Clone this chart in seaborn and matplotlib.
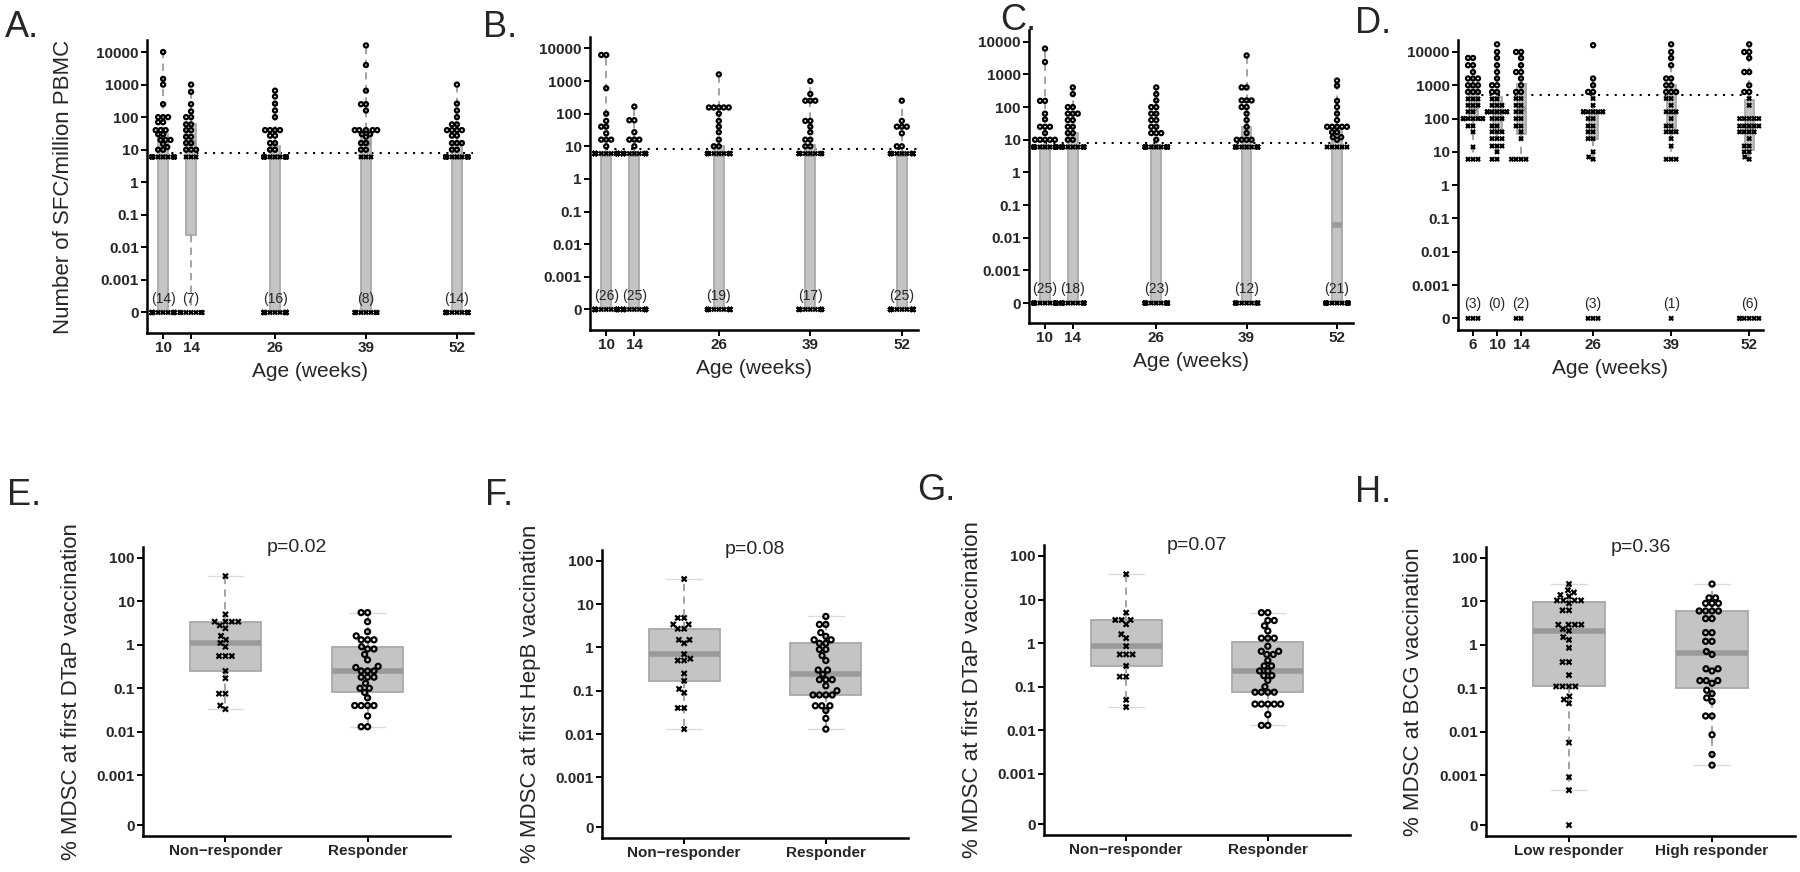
import warnings
import numpy as np
import pandas as pd
import matplotlib
matplotlib.use("Agg")
import matplotlib.pyplot as plt
from matplotlib.markers import MarkerStyle
from matplotlib.transforms import Affine2D
import seaborn as sns

warnings.filterwarnings("ignore")

# ---- A-D: SFC / million PBMC by age (values above the floor, floor count, zero count) ----
FLOOR_VALUE = 6

A_WEEKS = [10, 14, 26, 39, 52]
A_ZEROS = [14, 7, 16, 8, 14]
A_FLOOR = [18, 3, 20, 3, 18]
A_VALUES = [
    [10000, 1500, 1000, 250, 100, 100, 100, 70, 70, 40, 40, 40, 30, 30, 20, 20, 20, 15, 12, 10, 10],
    [1000, 600, 250, 150, 100, 100, 60, 60, 40, 40, 25, 25, 16, 16, 10, 10, 10],
    [650, 430, 260, 160, 100, 40, 40, 40, 40, 27, 27, 16, 16, 10, 10],
    [16000, 4000, 650, 250, 250, 160, 40, 40, 40, 40, 40, 30, 30, 25, 16, 16, 10, 10],
    [1000, 260, 160, 100, 60, 60, 40, 40, 40, 40, 27, 27, 16, 16, 16, 10, 10],
]

B_WEEKS = [10, 14, 26, 39, 52]
B_ZEROS = [26, 25, 19, 17, 25]
B_FLOOR = [30, 20, 15, 14, 20]
B_VALUES = [
    [6300, 6300, 600, 100, 60, 40, 40, 25, 16, 16, 16, 10],
    [165, 63, 63, 27, 16, 16, 16, 10],
    [1600, 155, 155, 155, 155, 155, 100, 60, 40, 27, 16, 10, 10],
    [1000, 400, 250, 250, 250, 60, 60, 40, 27, 16, 16, 10, 10],
    [250, 60, 40, 40, 40, 25, 10, 10],
]

C_WEEKS = [10, 14, 26, 39, 52]
C_ZEROS = [25, 18, 23, 12, 21]
C_FLOOR = [25, 16, 22, 13, 5]
C_VALUES = [
    [6200, 2400, 155, 155, 63, 42, 25, 25, 25, 16, 10, 10, 10, 10, 10],
    [400, 250, 100, 100, 63, 63, 63, 40, 40, 25, 25, 16, 16, 10, 10],
    [400, 250, 160, 100, 100, 63, 63, 40, 40, 25, 25, 16, 16, 16, 10],
    [3800, 400, 400, 160, 160, 160, 100, 100, 63, 40, 25, 16, 10, 10, 10, 10],
    [650, 450, 155, 100, 63, 40, 25, 25, 25, 25, 25, 17, 17, 12, 12, 10],
]

D_WEEKS = [6, 10, 14, 26, 39, 52]
D_ZEROS = [3, 0, 2, 3, 1, 6]
D_FLOOR = [0, 0, 0, 0, 0, 0]
D_VALUES = [
    [6600, 6600, 4000, 4000, 2500, 1600, 1600, 1600, 1000, 1000, 1000, 630, 630, 630, 390, 390, 390,
     250, 250, 250, 160, 160, 100, 100, 100, 100, 100, 100, 100, 100, 60, 60, 40, 14, 6, 6, 6],
    [17000, 10000, 6600, 4000, 2500, 1600, 1000, 1000, 630, 630, 390, 390, 250, 250, 250, 160, 160,
     160, 160, 160, 160, 160, 160, 100, 100, 100, 60, 60, 40, 40, 40, 25, 25, 25, 15, 15, 15, 10, 6, 6],
    [10000, 10000, 6600, 4000, 2500, 2500, 1600, 1000, 630, 630, 400, 400, 250, 250, 160, 160,
     100, 100, 60, 60, 40, 25, 6, 6, 6, 6],
    [16000, 1600, 1000, 630, 630, 400, 250, 160, 160, 160, 160, 160, 160, 160, 160, 100, 100,
     60, 60, 40, 40, 25, 25, 10, 7, 6],
    [17000, 10000, 6600, 4000, 1600, 1600, 1000, 1000, 630, 630, 630, 400, 400, 250, 160, 160, 160,
     100, 60, 60, 40, 40, 40, 25, 15, 6, 6, 6],
    [17000, 10000, 10000, 6600, 2500, 2500, 1000, 630, 630, 400, 250, 100, 100, 100, 100, 100,
     60, 60, 60, 60, 60, 40, 40, 40, 40, 25, 15, 15, 10, 10, 7, 6],
]
THRESHOLDS = [8, 8, 8, 500]

# ---- E-H: % MDSC at first vaccination ----
E_NONRESP = [38, 5, 3.4, 3.4, 3.4, 3.4, 2.8, 2.4, 1.6, 1.3, 1.1, 0.9, 0.55, 0.55, 0.55, 0.25, 0.17,
             0.075, 0.075, 0.04, 0.033]
E_RESP = [5.5, 5.5, 3.4, 2.0, 1.6, 1.3, 1.3, 1.3, 0.9, 0.8, 0.8, 0.6, 0.45, 0.32, 0.3, 0.25, 0.25,
          0.25, 0.18, 0.18, 0.18, 0.13, 0.1, 0.1, 0.08, 0.06, 0.04, 0.04, 0.04, 0.04, 0.023, 0.013, 0.013]
F_NONRESP = [38, 4.8, 4.8, 3.4, 3.4, 2.7, 2.7, 1.5, 1.5, 1.25, 0.7, 0.55, 0.5, 0.5, 0.25, 0.17, 0.11,
             0.09, 0.04, 0.04, 0.013]
F_RESP = [5.2, 3.4, 3.4, 2.2, 1.8, 1.5, 1.5, 1.25, 1.25, 0.9, 0.9, 0.65, 0.5, 0.3, 0.3, 0.24, 0.18,
          0.18, 0.18, 0.13, 0.1, 0.08, 0.08, 0.08, 0.08, 0.045, 0.045, 0.045, 0.035, 0.023, 0.013]
G_NONRESP = [38, 5, 3.4, 3.4, 3.4, 2.7, 1.6, 1.3, 0.85, 0.55, 0.55, 0.55, 0.3, 0.17, 0.17, 0.05, 0.034]
G_RESP = [5, 5, 3.3, 3.3, 2.5, 1.9, 1.3, 1.3, 1.3, 0.85, 0.65, 0.65, 0.55, 0.55, 0.4, 0.3, 0.3, 0.23,
          0.23, 0.18, 0.18, 0.14, 0.1, 0.075, 0.075, 0.075, 0.075, 0.04, 0.04, 0.04, 0.04, 0.04,
          0.023, 0.013, 0.013]
H_LOW = [25, 18, 16, 14, 13, 10.5, 10.5, 10.5, 10.5, 9, 6.2, 6.2, 2.9, 2.9, 2.9, 2.9, 2.3, 2.1, 1.5,
         1.3, 0.85, 0.4, 0.4, 0.2, 0.11, 0.11, 0.11, 0.11, 0.065, 0.055, 0.045, 0.0056, 0.0009,
         0.00045, 0]
H_HIGH = [25, 12, 12, 9, 9, 9, 6, 6, 6, 6, 4, 4, 1.9, 1.9, 1.2, 1.2, 0.7, 0.6, 0.28, 0.28, 0.25,
          0.15, 0.15, 0.15, 0.13, 0.09, 0.075, 0.06, 0.05, 0.023, 0.023, 0.0085, 0.003, 0.0017]

RESP_LABELS = ["Non\u2212responder", "Responder"]
BCG_LABELS = ["Low responder", "High responder"]
P_VALUES = ["p=0.02", "p=0.08", "p=0.07", "p=0.36"]
BOTTOM_YLABELS = ["% MDSC at first DTaP vaccination", "% MDSC at first HepB vaccination",
                  "% MDSC at first DTaP vaccination", "% MDSC at BCG vaccination"]

# styling
ZERO_TOP = -4.0
ZERO_BOTTOM = -4.15
BOX_FILL = "#c4c4c4"
BOX_EDGE = "#a9a9a9"

sns.set_style("ticks")
plt.rcParams["font.family"] = ["Liberation Sans", "DejaVu Sans"]

fig = plt.figure(figsize=(18, 8.72), dpi=100)


def rect(l, t, r, b):
    return [l / 1800, 1 - b / 872, (r - l) / 1800, (b - t) / 872]


def to_pos(v, zero):
    v = np.asarray(v, dtype=float)
    return np.where(v > 0, np.log10(np.where(v > 0, v, 1)), zero)


def marker_path(m, scale):
    ms = MarkerStyle(m)
    return ms.get_path().transformed(ms.get_transform() + Affine2D().scale(scale))


def restyle_points(ax, first, df, key, levels, lw, scale):
    # swap the single swarm marker for circle / cross per point;
    # drawn a bit larger than the swarm spacing so they pile up like the original
    circle = marker_path("o", scale)
    cross = marker_path("x", scale)
    for level, coll in zip(levels, ax.collections[first:]):
        sub = df[df[key] == level]
        coll.set_paths([circle if r else cross for r in sub["resp"]])
        coll.set_facecolor("none")
        coll.set_edgecolor("black")
        coll.set_linewidth(lw)
        coll.set_zorder(3)


def style_axis(ax):
    sns.despine(ax=ax)
    for s in ["left", "bottom"]:
        ax.spines[s].set_linewidth(1.8)
        ax.spines[s].set_color("black")
    ax.tick_params(length=4, width=1.4, labelsize=11, pad=2, color="black")
    for lbl in ax.get_xticklabels() + ax.get_yticklabels():
        lbl.set_fontweight("bold")


box_kws = dict(
    color=BOX_FILL, linecolor=BOX_EDGE, linewidth=1.3, showfliers=False, saturation=1,
    whiskerprops=dict(color="#9c9c9c", linestyle=(0, (4, 3)), linewidth=1.3),
    medianprops=dict(color="#9a9a9a", linewidth=4),
    capprops=dict(color="#dcdcdc", linewidth=1),
)

# ---------------- top row ----------------
top_panels = [
    ("A.", A_WEEKS, A_VALUES, A_FLOOR, A_ZEROS, (147, 40, 473, 333), (7.7, 54.3), (-4.63, 4.37), (5, 37)),
    ("B.", B_WEEKS, B_VALUES, B_FLOOR, B_ZEROS, (590, 37, 918, 330), (7.7, 54.3), (-4.63, 4.35), (483, 37)),
    ("C.", C_WEEKS, C_VALUES, C_FLOOR, C_ZEROS, (1029, 30, 1353, 323), (7.7, 54.3), (-4.61, 4.36), (1000, 30)),
    ("D.", D_WEEKS, D_VALUES, D_FLOOR, D_ZEROS, (1458, 40, 1763, 330), (3.5, 54.3), (-4.35, 4.36), (1355, 33)),
]

top_ticklabels = ["0", "0.001", "0.01", "0.1", "1", "10", "100", "1000", "10000"]

for i, (letter, weeks, values, floor, zeros, r, xlim, ylim, lpos) in enumerate(top_panels):
    ax = fig.add_axes(rect(*r))
    rows = []
    for w, vals, nf, nz in zip(weeks, values, floor, zeros):
        for v in list(vals) + [FLOOR_VALUE] * nf + [0] * nz:
            rows.append((w, v))
    df = pd.DataFrame(rows, columns=["week", "value"])
    df["pos"] = to_pos(df["value"], ZERO_TOP)
    df["resp"] = df["value"] > THRESHOLDS[i]

    width = 0.375 if letter == "D." else 0.35
    sns.boxplot(data=df, x="week", y="pos", native_scale=True, width=width, ax=ax, **box_kws)
    first = len(ax.collections)
    sns.swarmplot(data=df, x="week", y="pos", native_scale=True, size=1.8, color="black", ax=ax)
    restyle_points(ax, first, df, "week", sorted(weeks), 1.6, 1.65)

    thr = np.log10(THRESHOLDS[i])
    ax.plot([weeks[0], xlim[1]], [thr, thr], color="black", lw=1.5,
            linestyle=(0, (1, 3)), zorder=1.5)

    for w, nz in zip(weeks, zeros):
        ax.text(w, ZERO_TOP + 0.42, f"({nz})", ha="center", va="center", fontsize=10, zorder=4)

    ax.set_xlim(*xlim)
    ax.set_ylim(*ylim)
    ax.set_xticks(weeks)
    ax.set_xticklabels([str(w) for w in weeks])
    ax.set_yticks(np.arange(-4, 5))
    ax.set_yticklabels(top_ticklabels)
    ax.set_xlabel("Age (weeks)", fontsize=15, labelpad=5)
    if letter == "A.":
        ax.set_ylabel("Number of SFC/million PBMC", fontsize=16)
        ax.yaxis.set_label_coords(-0.225, 0.5)
    else:
        ax.set_ylabel("")
    style_axis(ax)
    fig.text(lpos[0] / 1800, 1 - lpos[1] / 872, letter, fontsize=26, va="baseline")

# ---------------- bottom row ----------------
bottom_panels = [
    ("E.", E_NONRESP, E_RESP, RESP_LABELS, (143, 547, 450, 836), (7, 505)),
    ("F.", F_NONRESP, F_RESP, RESP_LABELS, (602, 550, 908, 838), (485, 505)),
    ("G.", G_NONRESP, G_RESP, RESP_LABELS, (1044, 545, 1350, 835), (917, 500)),
    ("H.", H_LOW, H_HIGH, BCG_LABELS, (1486, 547, 1795, 836), (1355, 502)),
]
bottom_ticklabels = ["0", "0.001", "0.01", "0.1", "1", "10", "100"]

for i, (letter, low, high, labels, r, lpos) in enumerate(bottom_panels):
    ax = fig.add_axes(rect(*r))
    df = pd.DataFrame({
        "group": [labels[0]] * len(low) + [labels[1]] * len(high),
        "value": list(low) + list(high),
    })
    df["pos"] = to_pos(df["value"], ZERO_BOTTOM)
    df["resp"] = df["group"] == labels[1]

    sns.boxplot(data=df, x="group", y="pos", order=labels, width=0.5, ax=ax, **box_kws)
    first = len(ax.collections)
    sns.swarmplot(data=df, x="group", y="pos", order=labels, size=2.8, color="black", ax=ax)
    restyle_points(ax, first, df, "group", labels, 1.6, 1.3)

    ax.set_xlim(-0.58, 1.58)
    ax.set_ylim(-4.4, 2.25)
    ax.set_yticks([ZERO_BOTTOM, -3, -2, -1, 0, 1, 2])
    ax.set_yticklabels(bottom_ticklabels)
    ax.set_xlabel("")
    ax.set_ylabel(BOTTOM_YLABELS[i], fontsize=16)
    ax.yaxis.set_label_coords(-0.2, 0.5)
    ax.text(0.5, 1.0, P_VALUES[i], transform=ax.transAxes, ha="center", va="center", fontsize=14)
    style_axis(ax)
    fig.text(lpos[0] / 1800, 1 - lpos[1] / 872, letter, fontsize=26, va="baseline")

fig.savefig("out.png", dpi=100)
